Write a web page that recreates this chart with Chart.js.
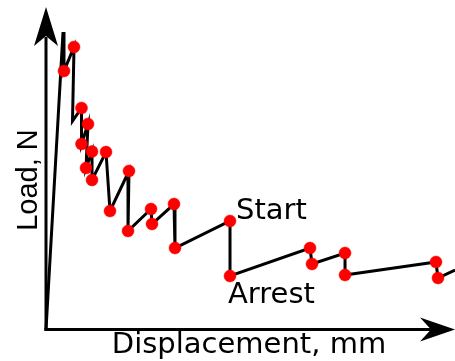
<!DOCTYPE html>
<html>
<head>
<meta charset="utf-8">
<script src="https://cdn.jsdelivr.net/npm/chart.js@4.4.0/dist/chart.umd.min.js"></script>
<style>
  html, body { margin: 0; padding: 0; background: #ffffff; overflow: hidden; }
  #wrap { width: 455px; height: 361px; }
</style>
</head>
<body>
<div id="wrap"><canvas id="c" width="455" height="361"></canvas></div>
<script>
// Load–displacement record with crack start / arrest events (arbitrary units)
const displacement = [0.000, 0.416, 0.440, 0.685, 0.648, 0.868, 0.868, 1.027, 0.978, 1.125,
                      1.125, 1.467, 1.565, 2.029, 2.005, 2.567, 2.592, 3.130, 3.154, 4.499,
                      4.499, 6.455, 6.504, 7.311, 7.311, 9.535, 9.584, 10.000];
const load =         [0.000, 9.225, 8.016, 8.760, 6.465, 6.868, 5.752, 6.372, 5.008, 5.519,
                      4.636, 5.504, 3.674, 4.915, 3.054, 3.736, 3.271, 3.891, 2.527, 3.364,
                      1.659, 2.527, 2.031, 2.372, 1.690, 2.093, 1.597, 1.845];
// 1 = start or arrest event marked on the curve
const marked =       [0, 0, 1, 1, 0, 1, 1, 1, 1, 1,
                      1, 1, 1, 1, 1, 1, 1, 1, 1, 1,
                      1, 1, 1, 1, 1, 1, 1, 0];

const xTitle = 'Displacement, mm';
const yTitle = 'Load, N';
const startLabel = { text: 'Start', index: 19 };
const arrestLabel = { text: 'Arrest', index: 20 };

const points = displacement.map((x, i) => ({ x: x, y: load[i] }));

// Axes with arrow heads plus the axis titles and event labels
const annotate = {
  id: 'annotate',
  beforeDatasetsDraw(chart) {
    const { ctx, chartArea: a } = chart;
    const x0 = a.left, y0 = a.bottom;
    ctx.save();
    ctx.strokeStyle = '#000';
    ctx.fillStyle = '#000';
    ctx.lineWidth = 3;
    ctx.lineCap = 'butt';
    // y axis
    ctx.beginPath();
    ctx.moveTo(x0, y0 + 1.5);
    ctx.lineTo(x0, a.top + 30);
    ctx.stroke();
    // x axis
    ctx.beginPath();
    ctx.moveTo(x0 - 1.5, y0);
    ctx.lineTo(a.right - 20, y0);
    ctx.stroke();
    // y arrow head
    ctx.beginPath();
    ctx.moveTo(x0, a.top);
    ctx.lineTo(x0 + 12, a.top + 39);
    ctx.lineTo(x0, a.top + 29);
    ctx.lineTo(x0 - 12, a.top + 39);
    ctx.closePath();
    ctx.fill();
    // x arrow head
    ctx.beginPath();
    ctx.moveTo(a.right, y0);
    ctx.lineTo(a.right - 35, y0 - 12);
    ctx.lineTo(a.right - 24, y0);
    ctx.lineTo(a.right - 35, y0 + 12);
    ctx.closePath();
    ctx.fill();

    // axis titles
    ctx.font = '29px "DejaVu Sans"';
    ctx.textAlign = 'center';
    ctx.textBaseline = 'alphabetic';
    ctx.fillText(xTitle, 249, 353);
    ctx.save();
    ctx.translate(37, 180);
    ctx.rotate(-Math.PI / 2);
    ctx.font = '29px "Liberation Sans"';
    ctx.fillText(yTitle, 0, 0);
    ctx.restore();

    // event labels next to their points
    const xs = chart.scales.x, ys = chart.scales.y;
    ctx.font = '29px "DejaVu Sans"';
    ctx.textAlign = 'left';
    const sx = xs.getPixelForValue(displacement[startLabel.index]);
    const sy = ys.getPixelForValue(load[startLabel.index]);
    ctx.fillText(startLabel.text, sx + 6, sy - 2);
    const ax = xs.getPixelForValue(displacement[arrestLabel.index]);
    const ay = ys.getPixelForValue(load[arrestLabel.index]);
    ctx.fillText(arrestLabel.text, ax - 2, ay + 27);
    ctx.restore();
  }
};

new Chart(document.getElementById('c'), {
  type: 'scatter',
  data: {
    datasets: [{
      data: points,
      showLine: true,
      borderColor: '#000000',
      borderWidth: 3,
      tension: 0,
      pointRadius: marked.map(m => (m ? 6 : 0)),
      pointBackgroundColor: '#ff0000',
      pointBorderColor: '#ff0000',
      pointBorderWidth: 0.5,
      clip: false
    }]
  },
  options: {
    responsive: false,
    animation: false,
    devicePixelRatio: 1,
    layout: { padding: { left: 46, right: 0, top: 7, bottom: 31.5 } },
    plugins: { legend: { display: false }, tooltip: { enabled: false } },
    scales: {
      x: { type: 'linear', min: 0, max: 10, display: false },
      y: { type: 'linear', min: 0, max: 10, display: false }
    }
  },
  plugins: [annotate]
});
</script>
</body>
</html>
